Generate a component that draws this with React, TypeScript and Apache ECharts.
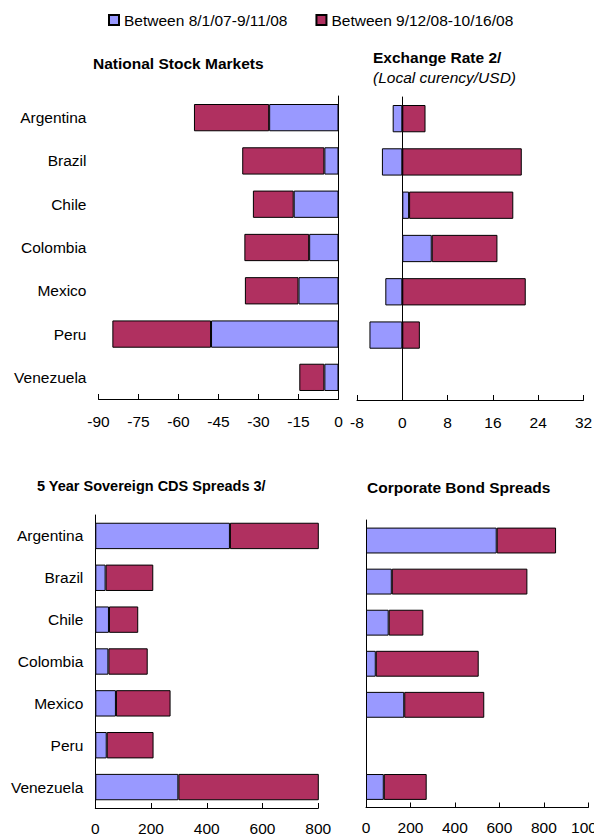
import React, { useEffect, useRef } from "react";
import * as echarts from "echarts";

const categories = ["Argentina", "Brazil", "Chile", "Colombia", "Mexico", "Peru", "Venezuela"];
const seriesNames = ["Between 8/1/07-9/11/08", "Between 9/12/08-10/16/08"];

// National Stock Markets (% change)
const stockFirst = [-26.0, -5.3, -16.8, -11.0, -15.0, -47.8, -5.3];
const stockSecond = [-28.2, -30.8, -15.3, -24.3, -20.1, -37.0, -9.4];

// Exchange Rate (% change, local currency/USD)
const fxFirst = [-1.7, -3.6, 1.2, 5.2, -3.0, -5.8, null];
const fxSecond = [4.1, 21.1, 18.4, 11.6, 21.8, 3.1, null];

// 5 Year Sovereign CDS Spreads (bps change)
const cdsFirst = [483, 37, 49, 47, 74, 41, 298];
const cdsSecond = [700, 171, 105, 141, 196, 168, 800];

// Corporate Bond Spreads (bps change)
const corpFirst = [588, 116, 102, 44, 172, null, 80];
const corpSecond = [267, 610, 156, 463, 360, null, 193];

const BLUE = "#9999FF";
const RED = "#B03060";
const FONT = 'Arial, "Liberation Sans", sans-serif';
const FS = 15.5;

function valueAxis(gridIndex: number, min: number, max: number, interval: number, margin: number) {
  return {
    type: "value",
    gridIndex,
    min,
    max,
    interval,
    axisLine: { show: true, onZero: false, lineStyle: { color: "#000", width: 1 } },
    axisTick: { show: true, inside: true, length: 5, lineStyle: { color: "#000" } },
    axisLabel: {
      show: true,
      margin,
      color: "#000",
      fontSize: FS,
      fontFamily: FONT,
      formatter: (v: number) => String(v),
    },
    splitLine: { show: false },
  };
}

function catAxis(gridIndex: number, opts: any) {
  return {
    type: "category",
    gridIndex,
    data: categories,
    inverse: true,
    position: opts.position || "left",
    axisLine: {
      show: opts.line,
      onZero: opts.onZero,
      lineStyle: { color: "#000", width: 1 },
    },
    axisTick: { show: false },
    axisLabel: {
      show: opts.labels,
      margin: 12,
      color: "#000",
      fontSize: FS,
      fontFamily: FONT,
    },
    splitLine: { show: false },
  };
}

function barSeries(name: string, data: any[], xi: number, yi: number, stack: string, color: string) {
  return {
    type: "bar",
    name,
    data,
    xAxisIndex: xi,
    yAxisIndex: yi,
    stack,
    clip: true,
    barCategoryGap: "37%",
    itemStyle: { color, borderColor: "#000", borderWidth: 1 },
  };
}

export default function App() {
  const ref = useRef<HTMLDivElement>(null);
  useEffect(() => {
    if (!ref.current) return;
    const chart = echarts.init(ref.current, undefined, { renderer: "svg" });
    const titleStyle = (size: number, weight: string, style = "normal") => ({
      fontSize: size,
      fontWeight: weight,
      fontStyle: style,
      color: "#000",
      fontFamily: FONT,
    });
    const option: any = {
      animation: false,
      backgroundColor: "#fff",
      textStyle: { fontFamily: FONT },
      title: [
        { text: "National Stock Markets", left: 93, top: 55, padding: 0, textStyle: titleStyle(15.5, "bold") },
        { text: "Exchange Rate 2/", left: 373, top: 49, padding: 0, textStyle: titleStyle(15.5, "bold") },
        { text: "(Local curency/USD)", left: 373, top: 69, padding: 0, textStyle: titleStyle(15.5, "normal", "italic") },
        { text: "5 Year Sovereign CDS Spreads 3/", left: 37, top: 478, padding: 0, textStyle: titleStyle(14.5, "bold") },
        { text: "Corporate Bond Spreads", left: 367, top: 479, padding: 0, textStyle: titleStyle(15.5, "bold") },
      ],
      legend: {
        data: seriesNames,
        left: 108,
        top: 12,
        padding: 0,
        icon: "rect",
        itemWidth: 10,
        itemHeight: 10,
        itemGap: 28,
        textStyle: { fontSize: FS, color: "#000", fontFamily: FONT },
      },
      grid: [
        { left: 98.5, top: 96, width: 240, height: 303, outerBoundsMode: "none", containLabel: false },
        { left: 357, top: 97, width: 226.5, height: 303, outerBoundsMode: "none", containLabel: false },
        { left: 95.3, top: 515, width: 223, height: 293, outerBoundsMode: "none", containLabel: false },
        { left: 366, top: 520, width: 222.3, height: 287.5, outerBoundsMode: "none", containLabel: false },
      ],
      xAxis: [
        valueAxis(0, -90, 0, 15, 14),
        valueAxis(1, -8, 32, 8, 14),
        valueAxis(2, 0, 800, 200, 12),
        valueAxis(3, 0, 1000, 200, 12),
      ],
      yAxis: [
        catAxis(0, { position: "left", line: false, onZero: false, labels: true }),
        catAxis(0, { position: "right", line: true, onZero: false, labels: false }),
        catAxis(1, { position: "left", line: true, onZero: true, labels: false }),
        catAxis(2, { position: "left", line: true, onZero: false, labels: true }),
        catAxis(3, { position: "left", line: true, onZero: false, labels: false }),
      ],
      series: [
        barSeries(seriesNames[0], stockFirst, 0, 0, "stock", BLUE),
        barSeries(seriesNames[1], stockSecond, 0, 0, "stock", RED),
        barSeries(seriesNames[0], fxFirst, 1, 2, "fx", BLUE),
        barSeries(seriesNames[1], fxSecond, 1, 2, "fx", RED),
        barSeries(seriesNames[0], cdsFirst, 2, 3, "cds", BLUE),
        barSeries(seriesNames[1], cdsSecond, 2, 3, "cds", RED),
        barSeries(seriesNames[0], corpFirst, 3, 4, "corp", BLUE),
        barSeries(seriesNames[1], corpSecond, 3, 4, "corp", RED),
      ],
    };
    chart.setOption(option);
    return () => chart.dispose();
  }, []);
  return (
    <div
      ref={ref}
      style={{ position: "fixed", left: 0, top: 0, width: 594, height: 837, background: "#fff" }}
    />
  );
}
